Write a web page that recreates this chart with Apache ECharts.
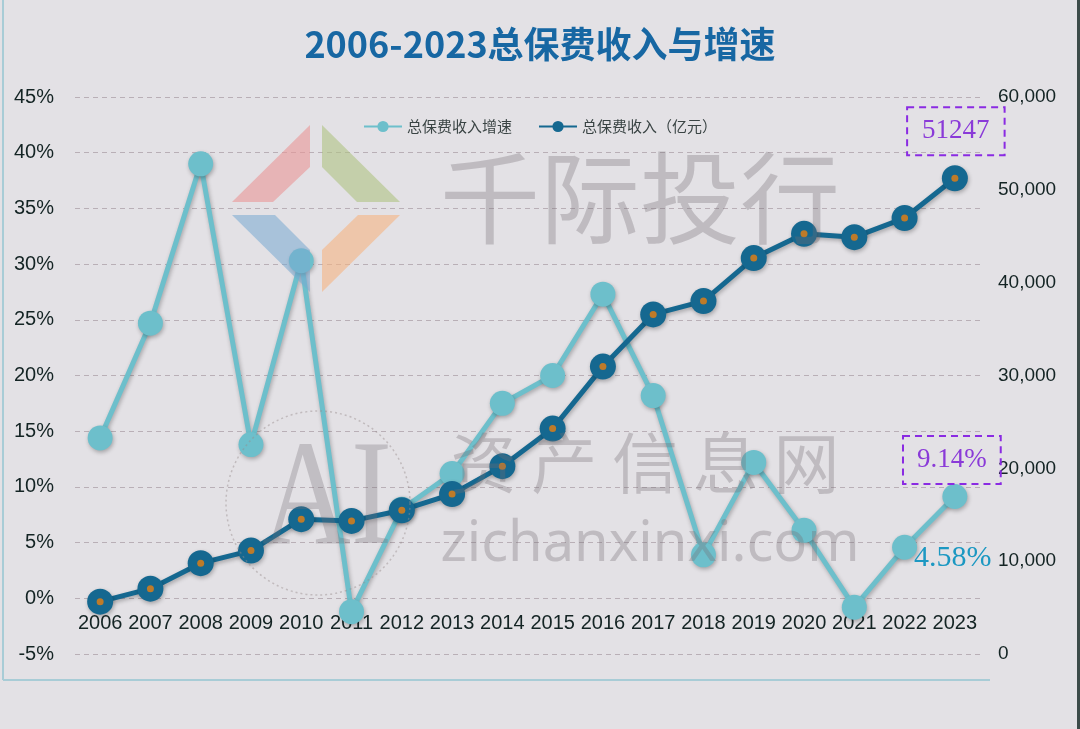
<!DOCTYPE html>
<html>
<head>
<meta charset="utf-8">
<script src="https://cdn.jsdelivr.net/npm/echarts@6/dist/echarts.min.js"></script>
<style>
html,body{margin:0;padding:0;background:#e3e1e5;}
#chart{width:1080px;height:729px;}
</style>
</head>
<body>
<div id="chart"></div>
<script>
var years = ['2006','2007','2008','2009','2010','2011','2012','2013','2014','2015','2016','2017','2018','2019','2020','2021','2022','2023'];
var growthRate = [14.4, 24.7, 39.0, 13.8, 30.3, -1.2, 8.0, 11.2, 17.5, 20.0, 27.3, 18.2, 3.9, 12.2, 6.1, -0.8, 4.58, 9.14];
var premium = [5641, 7036, 9784, 11137, 14528, 14339, 15488, 17222, 20235, 24283, 30959, 36581, 38017, 42645, 45257, 44900, 46957, 51247];
var leftTicks = {min: -5, max: 45, step: 5};
var rightTicks = {min: 0, max: 60000, step: 10000};
var seriesNames = ['总保费收入增速', '总保费收入（亿元）'];

var teal = '#6dbfcb';
var navy = '#156890';
var orange = '#e8800f';
var dash = [7, 5];

var last = premium.length - 1;
var premiumData = premium.map(function (v, i) {
  if (i !== last) return v;
  return {
    value: v,
    label: {
      show: true, position: 'top', distance: 10, offset: [1, 0],
      formatter: '{c}',
      fontFamily: 'Liberation Serif', fontSize: 27, color: '#8a3ad8',
      lineHeight: 28,
      borderColor: '#8a2be2', borderWidth: 2, borderType: dash,
      padding: [10, 15, 10, 15]
    }
  };
});
var growthData = growthRate.map(function (v, i) {
  if (i === last) {
    return {
      value: v,
      label: {
        show: true, position: 'top', distance: 0, offset: [-3, 0],
        formatter: function (p) { return p.value + '%'; },
        fontFamily: 'Liberation Serif', fontSize: 27, color: '#8a3ad8',
        lineHeight: 28,
        borderColor: '#8a2be2', borderWidth: 2, borderType: dash,
        padding: [10, 14, 10, 14]
      }
    };
  }
  if (i === last - 1) {
    return {
      value: v,
      label: {
        show: true, position: 'right', distance: 0, offset: [-3, 11],
        formatter: function (p) { return p.value + '%'; },
        fontFamily: 'Liberation Serif', fontSize: 30, color: '#1c98c2'
      }
    };
  }
  return v;
});

var wmFill = 'rgba(115,110,115,0.32)';
var chart = echarts.init(document.getElementById('chart'), null, {renderer: 'canvas'});
var shadow = {shadowColor: 'rgba(0,0,0,0.28)', shadowBlur: 4, shadowOffsetY: 2, shadowOffsetX: 1};

chart.setOption({
  backgroundColor: '#e3e1e5',
  animation: false,
  title: {
    text: '2006-2023总保费收入与增速',
    left: 'center', top: 21,
    textStyle: {fontFamily: 'Noto Sans CJK SC', fontSize: 36, fontWeight: 'bold', color: '#1767a3'}
  },
  legend: {
    data: seriesNames,
    top: 114, left: 'center',
    itemWidth: 38, itemHeight: 14, itemGap: 26,
    textStyle: {fontFamily: 'Noto Sans CJK SC', fontSize: 15, color: '#3a4444'}
  },
  grid: {left: 75, right: 100, top: 97, bottom: 75},
  xAxis: {
    type: 'category',
    data: years,
    boundaryGap: true,
    axisLine: {show: false},
    axisTick: {show: false},
    axisLabel: {interval: 0, margin: -41, fontFamily: 'Liberation Sans', fontSize: 20, color: '#142424'}
  },
  yAxis: [{
    type: 'value',
    min: leftTicks.min, max: leftTicks.max, interval: leftTicks.step,
    axisLine: {show: false}, axisTick: {show: false},
    axisLabel: {formatter: '{value}%', margin: 21, fontFamily: 'Liberation Sans', fontSize: 20, color: '#142424'},
    splitLine: {show: true, lineStyle: {type: [5, 4], color: '#b9afb6', width: 1}}
  }, {
    type: 'value',
    min: rightTicks.min, max: rightTicks.max, interval: rightTicks.step,
    axisLine: {show: false}, axisTick: {show: false},
    axisLabel: {
      margin: 18, fontFamily: 'Liberation Sans', fontSize: 19, color: '#142424',
      formatter: function (v) { return v.toLocaleString('en-US'); }
    },
    splitLine: {show: false}
  }],
  series: [{
    name: seriesNames[0],
    type: 'line',
    yAxisIndex: 0,
    data: growthData,
    symbol: 'circle', symbolSize: 25,
    lineStyle: Object.assign({color: teal, width: 5}, shadow),
    itemStyle: Object.assign({color: teal}, shadow),
    z: 2
  }, {
    name: seriesNames[1],
    type: 'line',
    yAxisIndex: 1,
    data: premiumData,
    symbol: 'circle', symbolSize: 26,
    lineStyle: Object.assign({color: navy, width: 5}, shadow),
    itemStyle: Object.assign({color: navy}, shadow),
    z: 3
  }, {
    name: 'dots',
    type: 'scatter',
    yAxisIndex: 1,
    data: premium,
    symbol: 'circle', symbolSize: 7,
    itemStyle: {color: orange},
    silent: true,
    z: 4
  }],
  graphic: [
    {type: 'line', shape: {x1: 3, y1: 0, x2: 3, y2: 680}, style: {stroke: '#a8ccd6', lineWidth: 2}, z: 1},
    {type: 'line', shape: {x1: 3, y1: 680, x2: 990, y2: 680}, style: {stroke: '#a8ccd6', lineWidth: 2}, z: 1},
    {type: 'rect', shape: {x: 1077, y: 0, width: 3, height: 729}, style: {fill: '#3c4b49'}, z: 1},
    {type: 'polygon', shape: {points: [[232,202],[310,125],[310,167],[273,202]]}, style: {fill: 'rgba(233,150,150,0.6)'}, z: 10},
    {type: 'polygon', shape: {points: [[322,125],[400,202],[357,202],[322,167]]}, style: {fill: 'rgba(175,195,130,0.6)'}, z: 10},
    {type: 'polygon', shape: {points: [[232,215],[275,215],[310,250],[310,292]]}, style: {fill: 'rgba(120,170,210,0.55)'}, z: 10},
    {type: 'polygon', shape: {points: [[400,215],[358,215],[322,250],[322,292]]}, style: {fill: 'rgba(245,180,130,0.6)'}, z: 10},
    {type: 'text', x: 640, y: 198, style: {text: '千际投行', align: 'center', verticalAlign: 'middle', fontFamily: 'Noto Sans CJK SC', fontSize: 100, fill: wmFill}, z: 10},
    {type: 'text', x: 645, y: 463, style: {text: '资 产 信 息 网', align: 'center', verticalAlign: 'middle', fontFamily: 'Noto Sans CJK SC', fontSize: 66, fill: wmFill}, z: 10},
    {type: 'text', x: 650, y: 545, style: {text: 'zichanxinxi.com', align: 'center', verticalAlign: 'middle', fontFamily: 'Noto Sans', fontSize: 56, fill: wmFill}, z: 10},
    {type: 'text', x: 327, y: 504, scaleX: 0.82, style: {text: 'AI', align: 'center', verticalAlign: 'middle', fontFamily: 'Liberation Serif', fontSize: 150, fill: 'rgba(115,110,115,0.3)'}, z: 10},
    {type: 'circle', shape: {cx: 318, cy: 503, r: 92}, style: {fill: 'none', stroke: 'rgba(150,140,140,0.45)', lineWidth: 1.5, lineDash: [2, 3]}, z: 10}
  ]
});
</script>
</body>
</html>
